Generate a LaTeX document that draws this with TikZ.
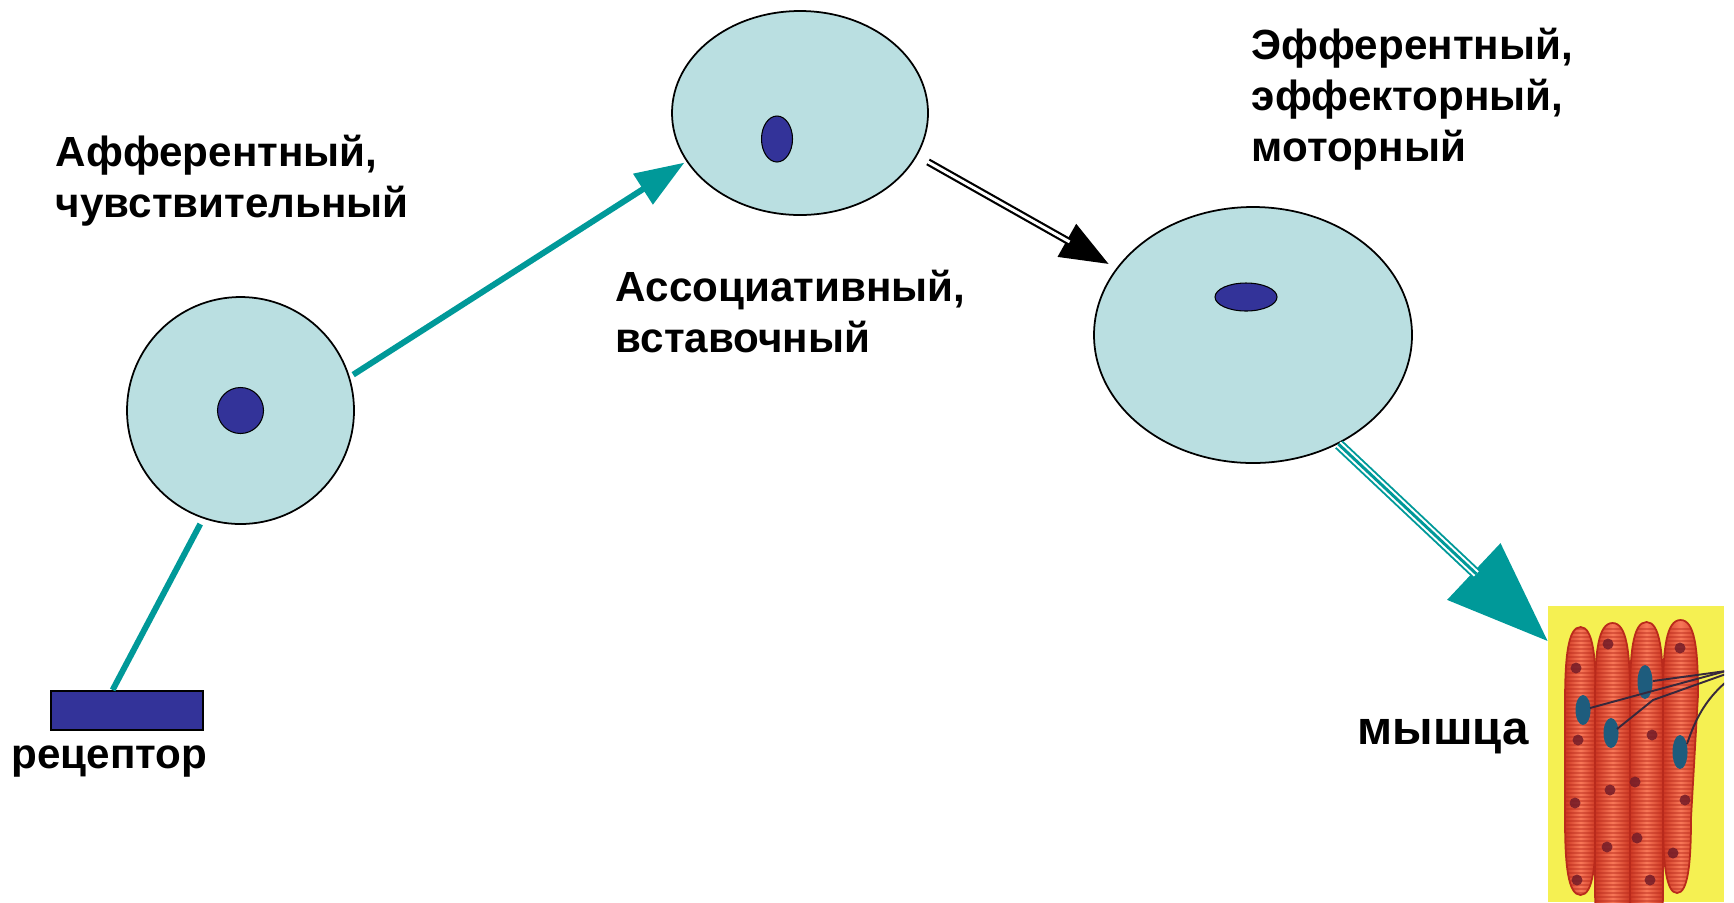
\documentclass[tikz,border=0pt]{standalone}
\usepackage{fontspec}
\setmainfont{Liberation Sans}
\usetikzlibrary{arrows.meta,shapes.geometric}

\definecolor{cellfill}{RGB}{186,223,225}
\definecolor{axon}{RGB}{0,153,153}
\definecolor{nucleus}{RGB}{51,51,153}
\definecolor{musbg}{RGB}{245,240,82}
\definecolor{fibreedge}{RGB}{205,55,35}
\definecolor{fibrelight}{RGB}{248,120,88}
\definecolor{fibredark}{RGB}{185,42,28}
\definecolor{musnuc}{RGB}{30,92,125}
\definecolor{musdot}{RGB}{115,28,40}
\definecolor{nerve}{RGB}{55,40,60}

\begin{document}
\begin{tikzpicture}[x=0.1mm,y=-0.1mm,
  cell/.style={draw=black,line width=0.5pt,fill=cellfill,inner sep=0,outer sep=0},
  core/.style={draw=black,line width=0.3pt,fill=nucleus,inner sep=0},
  lbl/.style={font=\bfseries\fontsize{12}{14.5}\selectfont,align=left,inner sep=0},
  axonline/.style={draw=axon,line width=1.7pt},
  nervefibre/.style={draw=nerve,line width=0.55pt},
]
\useasboundingbox (0,0) rectangle (1734,902);

% neurons
\node[cell,circle,minimum size=22.7mm] (aff) at (240.5,410.5) {};
\node[core,circle,minimum size=4.6mm] (affcore) at (240.5,410.5) {};

\node[cell,ellipse,minimum width=25.6mm,minimum height=20.4mm] (assoc) at (800,113) {};
\node[core,ellipse,minimum width=3.1mm,minimum height=4.6mm] (assoccore) at (777,139) {};

\node[cell,ellipse,minimum width=31.8mm,minimum height=25.6mm] (eff) at (1253,335) {};
\node[core,ellipse,minimum width=6.2mm,minimum height=2.8mm] (effcore) at (1246,297) {};

% receptor
\node[draw=black,line width=0.6pt,fill=nucleus,minimum width=15.2mm,minimum height=3.9mm,inner sep=0] (rec) at (127,710.5) {};

% muscle tissue: four striated fibres with nuclei and nerve endings
\node[inner sep=0,outer sep=0,minimum width=17.6mm,minimum height=29.6mm] (musc) at (1636,754) {};
\begin{scope}
  \clip (musc.north west) rectangle (musc.south east);
  \fill[musbg] (musc.north west) rectangle (musc.south east);
  \foreach \xl/\xr/\yt/\yb/\dr in {1565/1596/627/895/0, 1595/1630/623/960/0,
                                   1630/1663/622/960/0, 1663/1698/620/893/7}{
    \pgfmathsetmacro{\cx}{(\xl+\xr)/2}
    \def\fibrepath{({\cx},\yt) .. controls ({\xr-3},\yt) and (\xr,\yt+30) .. (\xr,\yt+75)
        -- ({\xr-\dr},\yb-75) .. controls ({\xr-\dr},\yb-30) and ({\xr-\dr-3},\yb) .. ({\cx-\dr/2},\yb)
        .. controls ({\xl+3},\yb) and (\xl,\yb-30) .. (\xl,\yb-75)
        -- (\xl,\yt+75) .. controls (\xl,\yt+30) and ({\xl+3},\yt) .. cycle}
    \begin{scope}
      \clip \fibrepath;
      \shade[left color=fibreedge,right color=fibreedge,middle color=fibrelight]
        (\xl,\yt) rectangle (\xr,\yb);
      \foreach \yy in {629,633,...,902}
        \draw[fibredark,line width=0.3pt,opacity=0.45] (\xl,\yy) -- (\xr,\yy);
    \end{scope}
    \draw[fibredark,line width=0.5pt] \fibrepath;
  }
  \foreach \px/\py in {1576/668,1608/644,1578/740,1652/735,1610/790,1635/782,1575/803,
                       1685/800,1607/847,1637/838,1673/853,1680/648,1577/880,1650/880}
    \fill[musdot,opacity=0.85] (\px,\py) circle [radius=5.5];
  \fill[musnuc] (1583,710) ellipse [x radius=7.5,y radius=15];
  \fill[musnuc] (1645,682) ellipse [x radius=7.5,y radius=17];
  \fill[musnuc] (1611,733) ellipse [x radius=7.5,y radius=15];
  \fill[musnuc] (1680,752) ellipse [x radius=7.5,y radius=17];
  \draw[nervefibre] (1726,671) -- (1653,681);
  \draw[nervefibre] (1726,671) -- (1590,708);
  \draw[nervefibre] (1726,674) -- (1653,700) -- (1617,729);
  \draw[nervefibre] (1726,682) .. controls (1705,700) and (1695,720) .. (1687,744);
\end{scope}

% connectors
\draw[axonline,shorten <=2pt] (aff.251.4) -- (rec.125.7);
\draw[axonline,-{Triangle[length=14pt,width=10pt]},shorten <=1.4pt,shorten >=0.9pt]
  (aff.17.6) -- (assoc.203.2);

\draw[black,line width=2.1pt,-{Triangle[length=13.8pt,width=10.2pt]},shorten <=3.8pt,shorten >=2.6pt]
  (assoc.-20) -- (eff.154.8);
\draw[white,line width=0.85pt,shorten <=3.5pt,shorten >=15.5pt]
  (assoc.-20) -- (eff.154.8);

\draw[axon,line width=3.1pt,-{Triangle[length=29pt,width=21.3pt]},shorten <=0.5pt]
  (eff.-52.6) -- (musc.128.4);
\draw[white,line width=2pt,shorten <=0.3pt,shorten >=28pt]
  (eff.-52.6) -- (musc.128.4);
\draw[axon,line width=0.85pt,shorten <=0.3pt,shorten >=28pt]
  (eff.-52.6) -- (musc.128.4);

% labels (anchored on the baseline of the last line)
\node[lbl,anchor=base west] (afflbl) at (55,217) {Афферентный,\\чувствительный};
\node[lbl,anchor=base west] (assoclbl) at (615,352) {Ассоциативный,\\вставочный};
\node[lbl,anchor=base west] (efflbl) at (1251,161) {Эфферентный,\\эффекторный,\\моторный};
\node[lbl,anchor=base west] (reclbl) at (11,768) {рецептор};
\node[lbl,anchor=base west,font=\bfseries\fontsize{13.5}{16}\selectfont] (musclbl) at (1357,744) {мышца};
\end{tikzpicture}
\end{document}
